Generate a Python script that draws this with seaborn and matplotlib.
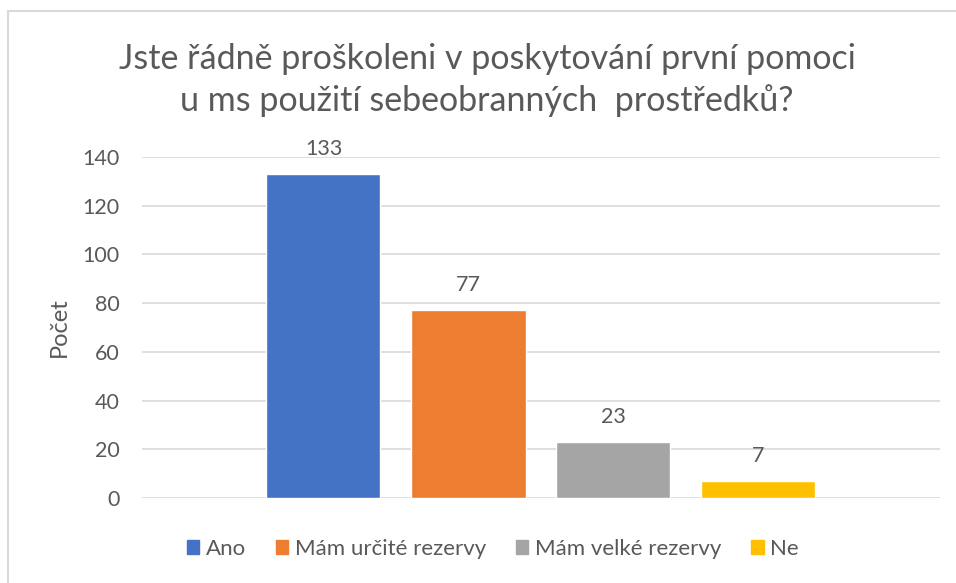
import matplotlib
matplotlib.use("Agg")
import matplotlib.pyplot as plt
import seaborn as sns
import pandas as pd
from matplotlib.patches import Rectangle

categories = ["Ano", "Mám určité rezervy", "Mám velké rezervy", "Ne"]
values = [133, 77, 23, 7]
colors = ["#4472C4", "#ED7D31", "#A5A5A5", "#FFC000"]
yticks = [0, 20, 40, 60, 80, 100, 120, 140]
title = "Jste řádně proškoleni v poskytování první pomoci\nu ms použití sebeobranných  prostředků?"
ylabel = "Počet"

sns.set_theme(style="white")
plt.rcParams['font.family'] = ['Lato', 'DejaVu Sans']
txt = "#595959"

df = pd.DataFrame({"kat": categories, "pocet": values})

W, H = 956, 583
fig = plt.figure(figsize=(W/100, H/100), dpi=100)
ax = fig.add_axes([142/W, 1-498/H, (940-142)/W, (498-157)/H])

sns.barplot(data=df, x="kat", y="pocet", hue="kat", palette=colors,
            order=categories, hue_order=categories, dodge=False,
            width=114/145, ax=ax, legend=False, saturation=1)

ax.set_ylim(0, 140)
ax.set_xlim(1.5 - (541-142)/145, 1.5 + (940-541)/145)
ax.set_yticks(yticks)
ax.set_yticklabels([str(t) for t in yticks], fontsize=15.5, color=txt)
ax.set_xticks([])
ax.set_xlabel("")
ax.set_ylabel(ylabel, fontsize=17, color=txt)
ax.yaxis.set_label_coords((70-142)/798, 0.5)
ax.tick_params(axis='y', length=0, pad=16)
ax.yaxis.grid(True, color="#D9D9D9", linewidth=1.2)
ax.set_axisbelow(True)
for s in ax.spines.values():
    s.set_visible(False)

for c in ax.containers:
    ax.bar_label(c, fontsize=15.5, color=txt, padding=11)

fig.text(487/W, 1-80/H, title, ha="center", va="center", fontsize=24.5,
         color=txt, linespacing=1.35)

handles = [Rectangle((0, 0), 1, 1, color=col) for col in colors]
leg = fig.legend(handles, categories, loc="center", bbox_to_anchor=(493/W, 1-549/H),
                 ncol=4, frameon=False, fontsize=16, handlelength=0.55,
                 handleheight=0.55, handletextpad=0.3, columnspacing=1.35)
for t in leg.get_texts():
    t.set_color(txt)

fig.patches.append(Rectangle((8/W, -0.1), 1.2, 1 - 11/H + 0.1, transform=fig.transFigure,
                             fill=False, edgecolor="#D9D9D9", linewidth=1.5))

fig.savefig("out.png", dpi=100)
